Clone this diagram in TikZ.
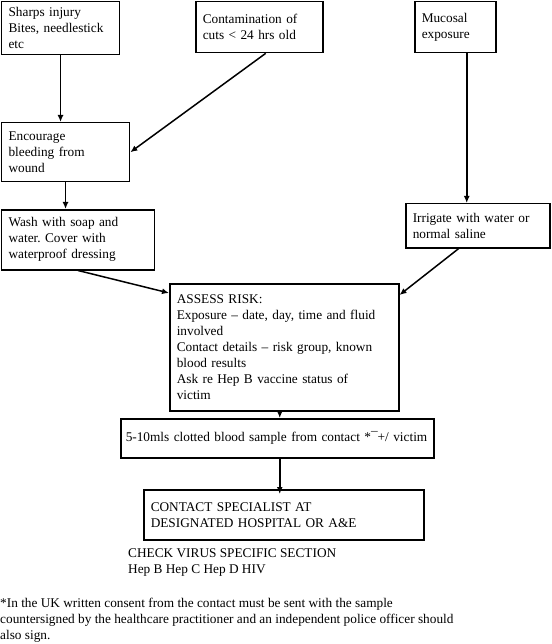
\documentclass[tikz,border=0pt]{standalone}
\usepackage{fontspec}
\setmainfont{Liberation Serif}
\usetikzlibrary{arrows.meta}
\begin{document}
\frenchspacing
\begin{tikzpicture}[x=1pt,y=-1pt,
  every node/.style={font=\fontsize{13.3}{16}\selectfont},
  box/.style={draw, line width=1.5pt, anchor=north west, align=left, inner xsep=7pt, inner ysep=2pt},
  arr/.style={line width=1.5pt, -{Latex[length=7pt,width=6pt]}},
  plain/.style={anchor=west, align=left, inner sep=0pt}]
\useasboundingbox (0,0) rectangle (551,644);
\node[box, minimum width=118, minimum height=53, text width=104] (sharps) at (0.8,0.8) {Sharps injury\\Bites, needlestick\\etc};
\node[box, minimum width=127, minimum height=51, text width=113] (contam) at (195,0.8) {Contamination of\\cuts < 24 hrs old};
\node[box, minimum width=81, minimum height=51, text width=67] (mucosal) at (414,0.8) {Mucosal\\exposure};
\node[box, minimum width=128, minimum height=59, text width=114] (encourage) at (0.8,122) {Encourage\\bleeding from\\wound};
\node[box, minimum width=153, minimum height=60, text width=139] (wash) at (0.8,209) {Wash with soap and\\water. Cover with\\waterproof dressing};
\node[box, minimum width=144, minimum height=44, text width=130] (irrigate) at (405,203) {Irrigate with water or\\normal saline};
\node[box, minimum width=229, minimum height=127, text width=215] (assess) at (169,283) {ASSESS RISK:\\Exposure – date, day, time and fluid\\involved\\Contact details – risk group, known\\blood results\\Ask re Hep B vaccine status of\\victim};
\node[box, minimum width=313, minimum height=39, text width=303, inner xsep=5pt] (sample) at (120,418) {5-10mls clotted blood sample from contact *¯+/ victim};
\node[box, minimum width=280, minimum height=50, text width=266] (contact) at (143,489) {CONTACT SPECIALIST AT\\DESIGNATED HOSPITAL OR A\&E};
\node[plain] (check) at (128,563) {CHECK VIRUS SPECIFIC SECTION\\Hep B Hep C Hep D HIV};
\node[plain] (foot) at (0,620) {*In the UK written consent from the contact must be sent with the sample\\countersigned by the healthcare practitioner and an independent police officer should\\also sign.};
% connectors
\draw[arr] (sharps.south) -- (sharps.south |- encourage.north);
\draw[arr] ([xshift=6.5pt]contam.south) -- (encourage.east);
\draw[arr] (encourage.south) -- (encourage.south |- wash.north);
\draw[arr] (wash.south) -- ([yshift=-10pt]assess.north west);
\draw[arr] ([xshift=11.5pt]mucosal.south) -- ([xshift=11.5pt]mucosal.south |- irrigate.north);
\draw[arr] ([xshift=-19pt]irrigate.south) -- ([yshift=-12pt]assess.north east);
\draw[arr] ([xshift=-4.5pt]assess.south) -- ([xshift=-4.5pt]assess.south |- sample.north);
\coordinate (tipc) at ([xshift=-4.5pt,yshift=-5pt]assess.south |- contact.north);
\draw[arr] ([xshift=-4.5pt]assess.south |- sample.south) -- (tipc);
\end{tikzpicture}
\end{document}
